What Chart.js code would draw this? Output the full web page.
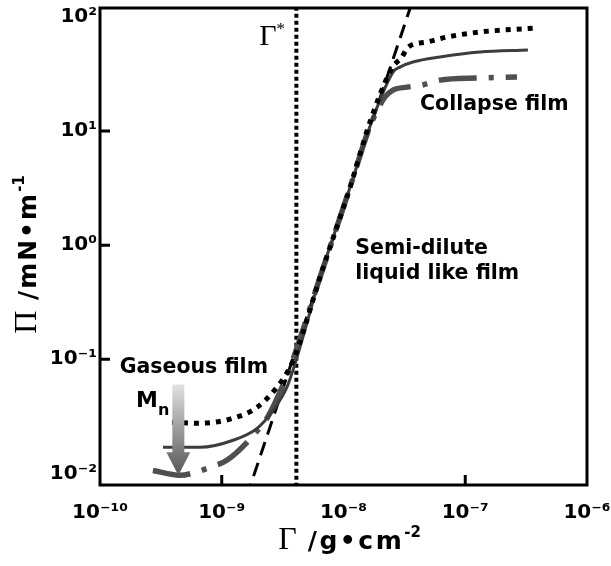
<!DOCTYPE html>
<html lang="en">
<head>
  <meta charset="UTF-8" />
  <title>Surface pressure isotherms</title>
  <style>
    body { margin: 0; background: #ffffff; }
    .wrap { position: relative; width: 611px; height: 566px; }
  </style>
</head>
<body>
  <div class="wrap"><canvas id="isotherm"></canvas></div>

  <script src="https://cdn.jsdelivr.net/npm/chart.js"></script>
  <script>
    // surface concentration Γ (g/cm²) against surface pressure Π (mN/m)
    const highX = [3.9e-10, 6.6e-10, 1.24e-9, 1.95e-9, 2.84e-9, 3.64e-9, 4.22e-9, 6.4e-9, 1.13e-8, 1.65e-8, 2.5e-8, 3.02e-8, 3.39e-8, 4.85e-8, 7.08e-8, 1.32e-7, 3.74e-7];
    const highY = [0.028, 0.0275, 0.0304, 0.0379, 0.0568, 0.0851, 0.125, 0.52, 3.2, 12.0, 35.7, 44.6, 54.5, 60.4, 66.8, 73.9, 80.1];

    const midX = [3.29e-10, 6.6e-10, 1.24e-9, 1.95e-9, 2.64e-9, 3.43e-9, 4.15e-9, 6.4e-9, 1.13e-8, 1.65e-8, 2.55e-8, 2.91e-8, 3.72e-8, 6.21e-8, 1.32e-7, 3.27e-7];
    const midY = [0.0169, 0.0169, 0.0195, 0.0248, 0.0357, 0.0568, 0.104, 0.52, 3.2, 11.0, 32.9, 36.4, 40.3, 44.6, 49.3, 51.4];

    const lowX = [2.72e-10, 4.54e-10, 5.7e-10, 8.0e-10, 1.1e-9, 1.88e-9, 2.4e-9, 3.18e-9, 3.77e-9, 6.4e-9, 1.13e-8, 1.65e-8, 2.19e-8, 2.55e-8, 3.33e-8, 4.42e-8, 6.21e-8, 1.27e-7, 2.66e-7];
    const lowY = [0.0106, 0.0096, 0.0100, 0.0113, 0.0130, 0.0224, 0.0316, 0.0592, 0.0942, 0.52, 3.2, 11.0, 19.9, 22.9, 24.3, 25.3, 28.0, 29.2, 29.8];

    // semi-dilute scaling line
    const scalingX = [1.6e-9, 4e-8];
    const scalingY = [0.0062, 179];

    const gammaStar = 4.1e-9;

    const xTickValues = [1e-10, 1e-9, 1e-8, 1e-7, 1e-6];
    const yTickValues = [1e-2, 1e-1, 1, 10, 100];
    const xTickMarks = [1e-9, 1e-7];
    const yTickMarks = [1e-1, 1, 10];

    const SANS = "'DejaVu Sans', sans-serif";
    const SERIF = "'Liberation Serif', 'DejaVu Serif', serif";

    const SUP = { '-': '\u207B', '0': '\u2070', '1': '\u00B9', '2': '\u00B2', '3': '\u00B3', '4': '\u2074',
                  '5': '\u2075', '6': '\u2076', '7': '\u2077', '8': '\u2078', '9': '\u2079' };

    function decadeLabel(v) {
      const e = Math.round(Math.log10(v));
      return '10' + String(e).split('').map(c => SUP[c]).join('');
    }

    function toPoints(xs, ys) {
      return xs.map((x, i) => ({ x: x, y: ys[i] }));
    }

    // draw a run of text pieces with their own font and vertical shift
    function drawParts(ctx, parts, x, y) {
      let cx = x;
      parts.forEach(p => {
        ctx.font = p.font;
        ctx.letterSpacing = (p.spacing || 0) + 'px';
        ctx.fillText(p.t, cx, y + (p.dy || 0));
        cx += ctx.measureText(p.t).width;
      });
      ctx.letterSpacing = '0px';
      return cx - x;
    }

    function partsWidth(ctx, parts) {
      let w = 0;
      parts.forEach(p => {
        ctx.font = p.font;
        ctx.letterSpacing = (p.spacing || 0) + 'px';
        w += ctx.measureText(p.t).width;
      });
      ctx.letterSpacing = '0px';
      return w;
    }

    const decorations = {
      id: 'decorations',
      afterDatasetsDraw(chart) {
        const { ctx, chartArea: a, scales: { x, y } } = chart;
        ctx.save();

        // frame and inward tick marks
        ctx.strokeStyle = '#000';
        ctx.lineWidth = 3;
        ctx.setLineDash([]);
        ctx.strokeRect(a.left, a.top, a.right - a.left, a.bottom - a.top);
        ctx.beginPath();
        xTickMarks.forEach(v => {
          const px = x.getPixelForValue(v);
          ctx.moveTo(px, a.bottom);
          ctx.lineTo(px, a.bottom - 10);
        });
        yTickMarks.forEach(v => {
          const py = y.getPixelForValue(v);
          ctx.moveTo(a.left, py);
          ctx.lineTo(a.left + 10, py);
        });
        ctx.stroke();

        // Mn arrow
        const ax = x.getPixelForValue(4.4e-10);
        const aTop = y.getPixelForValue(0.06);
        const aTip = y.getPixelForValue(0.0096);
        const grad = ctx.createLinearGradient(0, aTop, 0, aTip);
        grad.addColorStop(0, '#e2e2e2');
        grad.addColorStop(1, '#555555');
        ctx.fillStyle = grad;
        ctx.beginPath();
        ctx.moveTo(ax - 6, aTop);
        ctx.lineTo(ax + 6, aTop);
        ctx.lineTo(ax + 6, aTip - 23);
        ctx.lineTo(ax + 12, aTip - 23);
        ctx.lineTo(ax, aTip);
        ctx.lineTo(ax - 12, aTip - 23);
        ctx.lineTo(ax - 6, aTip - 23);
        ctx.closePath();
        ctx.fill();

        // annotations
        ctx.fillStyle = '#000';
        ctx.textBaseline = 'alphabetic';
        ctx.textAlign = 'left';
        const bold = 'bold 20.5px ' + SANS;

        const gx = x.getPixelForValue(3.31e-9), gy = y.getPixelForValue(56.8);
        const gParts = [{ t: '\u0393', font: '30px ' + SERIF }, { t: '*', font: '17px ' + SERIF, dy: -11 }];
        drawParts(ctx, gParts, gx - partsWidth(ctx, gParts), gy);

        ctx.font = bold;
        ctx.fillText('Collapse film', x.getPixelForValue(4.25e-8), y.getPixelForValue(15.3));
        const sx = x.getPixelForValue(1.25e-8), sy = y.getPixelForValue(0.834);
        ctx.fillText('Semi-dilute', sx, sy);
        ctx.fillText('liquid like film', sx, sy + 25);
        ctx.fillText('Gaseous film', x.getPixelForValue(1.45e-10), y.getPixelForValue(0.0753));
        drawParts(ctx, [{ t: 'M', font: 'bold 22px ' + SANS }, { t: 'n', font: 'bold 16px ' + SANS, dy: 8 }],
          x.getPixelForValue(1.98e-10), y.getPixelForValue(0.0379));

        // axis titles
        const xt = [
          { t: '\u0393', font: '32px ' + SERIF },
          { t: ' /g\u2022cm', font: 'bold 25px ' + SANS, spacing: 2.5 },
          { t: '-2', font: 'bold 15px ' + SANS, dy: -12 }
        ];
        const cxMid = (a.left + a.right) / 2 + 6;
        drawParts(ctx, xt, cxMid - partsWidth(ctx, xt) / 2, 549);

        const yt = [
          { t: '\u03A0', font: '32px ' + SERIF },
          { t: ' /mN\u2022m', font: 'bold 25px ' + SANS, spacing: 2 },
          { t: '-1', font: 'bold 15px ' + SANS, dy: -12 }
        ];
        ctx.translate(36, (a.top + a.bottom) / 2 + 8);
        ctx.rotate(-Math.PI / 2);
        drawParts(ctx, yt, -partsWidth(ctx, yt) / 2, 0);

        ctx.restore();
      }
    };

    const tickFont = { family: SANS, size: 20, weight: 'bold' };

    new Chart(document.getElementById('isotherm'), {
      type: 'line',
      data: {
        datasets: [
          {
            label: 'high Mn',
            data: toPoints(highX, highY),
            borderColor: '#000000',
            borderWidth: 5,
            borderDash: [5, 6],
            cubicInterpolationMode: 'monotone'
          },
          {
            label: 'mid Mn',
            data: toPoints(midX, midY),
            borderColor: '#3d3d3d',
            borderWidth: 3,
            cubicInterpolationMode: 'monotone'
          },
          {
            label: 'low Mn',
            data: toPoints(lowX, lowY),
            borderColor: '#4f4f4f',
            borderWidth: 5.5,
            borderDash: [38, 12, 5, 12],
            cubicInterpolationMode: 'monotone'
          },
          {
            label: 'scaling',
            data: toPoints(scalingX, scalingY),
            borderColor: '#000000',
            borderWidth: 3,
            borderDash: [14, 8],
            tension: 0
          },
          {
            label: 'Gamma*',
            data: [{ x: gammaStar, y: 0.005 }, { x: gammaStar, y: 500 }],
            borderColor: '#000000',
            borderWidth: 4,
            borderDash: [4, 3],
            tension: 0
          }
        ]
      },
      options: {
        responsive: true,
        maintainAspectRatio: false,
        animation: false,
        events: [],
        layout: { padding: { top: 8, right: 24, left: 0, bottom: 0 } },
        elements: { point: { radius: 0 } },
        plugins: { legend: { display: false }, tooltip: { enabled: false } },
        scales: {
          x: {
            type: 'logarithmic',
            min: 1e-10,
            max: 1e-6,
            grid: { display: false, drawTicks: false },
            border: { display: false },
            ticks: { font: tickFont, color: '#000', padding: 16, autoSkip: false, maxRotation: 0, callback: v => decadeLabel(v) },
            afterBuildTicks: s => { s.ticks = xTickValues.map(v => ({ value: v })); },
            afterFit: s => { s.height = 81; s.paddingLeft = 0; s.paddingRight = 0; }
          },
          y: {
            type: 'logarithmic',
            min: 0.0079,
            max: 120,
            grid: { display: false, drawTicks: false },
            border: { display: false },
            ticks: { font: tickFont, color: '#000', padding: 3, autoSkip: false, callback: v => decadeLabel(v) },
            afterBuildTicks: s => { s.ticks = yTickValues.map(v => ({ value: v })); },
            afterFit: s => { s.width = 100; s.paddingTop = 0; s.paddingBottom = 0; }
          }
        }
      },
      plugins: [decorations]
    });
  </script>
</body>
</html>
